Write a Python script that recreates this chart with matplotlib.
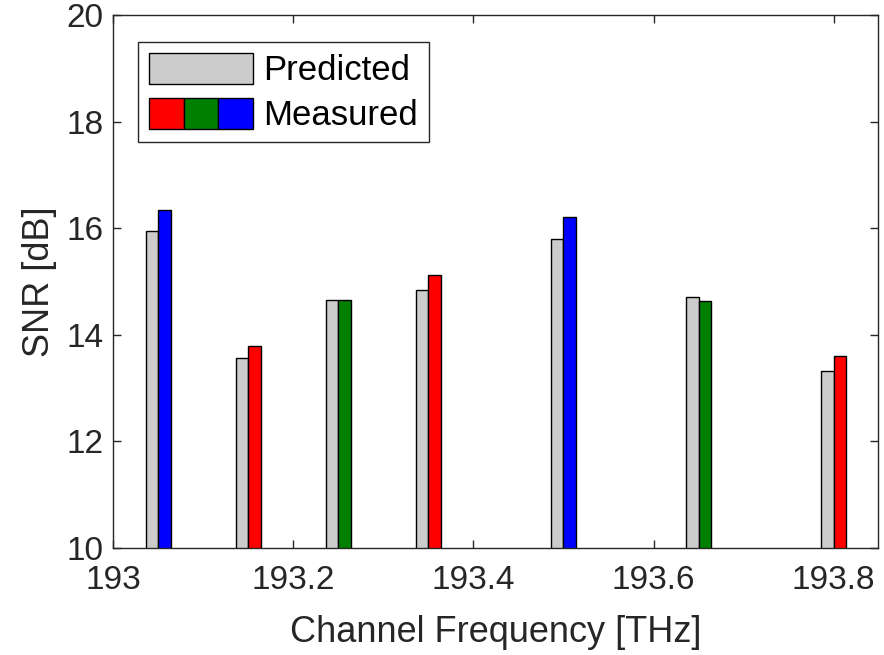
import numpy as np
import matplotlib
matplotlib.use("Agg")
import matplotlib.pyplot as plt
from matplotlib.patches import Patch
from matplotlib.legend_handler import HandlerTuple

plt.rcParams["font.family"] = ["Liberation Sans", "DejaVu Sans"]

# ---------- data ----------
freq = [193.05, 193.15, 193.25, 193.35, 193.5, 193.65, 193.8]
predicted = [15.94, 13.56, 14.65, 14.84, 15.79, 14.71, 13.32]
measured = [16.34, 13.79, 14.65, 15.13, 16.22, 14.64, 13.60]
meas_colors = ["#0000ff", "#ff0000", "#008000", "#ff0000", "#0000ff", "#008000", "#ff0000"]

axcol = "#262626"
w = 0.0139

fig = plt.figure(figsize=(8.84, 6.55), dpi=100)
ax = fig.add_axes([0.128, 0.1634, 0.865, 0.8136])

x = np.array(freq)
ax.bar(x - w / 2, predicted, width=w, color="#cccccc", edgecolor="black", linewidth=1.0, zorder=2)
ax.bar(x + w / 2, measured, width=w, color=meas_colors, edgecolor="black", linewidth=1.0, zorder=2)

ax.set_xlim(193, 193.849)
ax.set_ylim(10, 20)
ax.set_xticks([193, 193.2, 193.4, 193.6, 193.8])
ax.set_xticklabels(["193", "193.2", "193.4", "193.6", "193.8"])
ax.set_yticks([10, 12, 14, 16, 18, 20])

ax.tick_params(direction="in", top=True, right=True, length=6, width=1.0,
               color=axcol, labelcolor=axcol, labelsize=24)
ax.tick_params(axis="x", pad=12)
ax.tick_params(axis="y", pad=7)
for s in ax.spines.values():
    s.set_color(axcol)
    s.set_linewidth(1.0)
    s.set_zorder(3)

ax.set_xlabel("Channel Frequency [THz]", fontsize=26, color=axcol, labelpad=14)
ax.set_ylabel("SNR [dB]", fontsize=26, color=axcol, labelpad=7)

# legend: grey patch + three-colour measured patch
h_pred = Patch(facecolor="#cccccc", edgecolor="black", linewidth=1.0)
h_meas = tuple(Patch(facecolor=c, edgecolor="black", linewidth=1.0)
               for c in ["#ff0000", "#008000", "#0000ff"])
leg = ax.legend([h_pred, h_meas], ["Predicted", "Measured"],
                handler_map={tuple: HandlerTuple(ndivide=None, pad=0)},
                loc="upper left", bbox_to_anchor=(0.033, 0.949),
                fontsize=25, handlelength=3.0, handleheight=1.0,
                handletextpad=0.3, borderpad=0.3, labelspacing=0.3,
                fancybox=False, framealpha=1, edgecolor=axcol, borderaxespad=0)
leg.get_frame().set_linewidth(1.0)
for t in leg.get_texts():
    t.set_color("black")

fig.savefig("out.png", dpi=100)
